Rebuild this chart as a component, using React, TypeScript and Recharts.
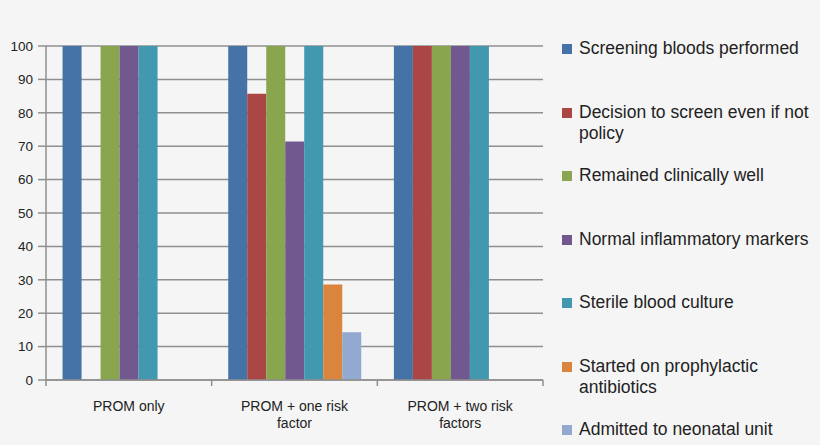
import React from 'react';
import { BarChart, Bar, XAxis, YAxis, CartesianGrid, Legend, Text } from 'recharts';

const categories = ['PROM only', 'PROM + one risk factor', 'PROM + two risk factors'];

const seriesNames = [
  'Screening bloods performed',
  'Decision to screen even if not policy',
  'Remained clinically well',
  'Normal inflammatory markers',
  'Sterile blood culture',
  'Started on prophylactic antibiotics',
  'Admitted to neonatal unit',
];

const screeningBloods = [100, 100, 100];
const decisionToScreen = [0, 85.7, 100];
const clinicallyWell = [100, 100, 100];
const normalMarkers = [100, 71.4, 100];
const sterileCulture = [100, 100, 100];
const prophylacticAbx = [0, 28.6, 0];
const admittedNnu = [0, 14.3, 0];

const yTicks = [0, 10, 20, 30, 40, 50, 60, 70, 80, 90, 100];

const seriesValues = [
  screeningBloods,
  decisionToScreen,
  clinicallyWell,
  normalMarkers,
  sterileCulture,
  prophylacticAbx,
  admittedNnu,
];

const colors = ['#4572a7', '#aa4643', '#89a54e', '#71588f', '#4198af', '#db843d', '#93a9cf'];

const data = categories.map((name, i) => {
  const row: Record<string, string | number> = { name };
  seriesNames.forEach((s, k) => {
    row[s] = seriesValues[k][i];
  });
  return row;
});

const FONT = '"Liberation Sans", Arial, sans-serif';
const GRID = '#8f8f8f';

// category label plus the tick marks at the band edges (Excel style)
function CategoryTick(props: any) {
  const { x, y, payload, index } = props;
  const half = payload.offset || 0;
  const axisY = y - 21;
  return (
    <g>
      <line x1={x - half} x2={x - half} y1={axisY} y2={axisY + 6} stroke={GRID} strokeWidth={1.5} />
      {index === categories.length - 1 && (
        <line x1={x + half} x2={x + half} y1={axisY} y2={axisY + 6} stroke={GRID} strokeWidth={1.5} />
      )}
      <Text
        x={x}
        y={y}
        width={120}
        textAnchor="middle"
        verticalAnchor="start"
        lineHeight={17}
        fontSize={14}
        fontFamily={FONT}
        fill="#222"
      >
        {payload.value}
      </Text>
    </g>
  );
}

function LegendList(props: any) {
  const payload = [...(props.payload || [])].sort(
    (a: any, b: any) => seriesNames.indexOf(a.value) - seriesNames.indexOf(b.value)
  );
  return (
    <div style={{ paddingLeft: 19, fontFamily: FONT, fontSize: 17.5, color: '#222' }}>
      {payload.map((entry: any) => (
        <div key={entry.value} style={{ height: 63.5, display: 'flex', alignItems: 'flex-start' }}>
          <span
            style={{
              width: 10,
              height: 10,
              marginTop: 6,
              marginRight: 7,
              flex: '0 0 10px',
              background: entry.color,
            }}
          />
          <span style={{ lineHeight: '21px', flex: '0 0 238px' }}>{entry.value}</span>
        </div>
      ))}
    </div>
  );
}

export default function App() {
  return (
    <div style={{ position: 'absolute', left: 0, top: 0, width: 820, height: 445, background: '#f5f5f5', overflow: 'hidden' }}>
      <BarChart
        width={820}
        height={445}
        data={data}
        margin={{ top: 46, right: 19, bottom: 0, left: 0 }}
        barCategoryGap="10%"
        barGap={0}
      >
        <CartesianGrid vertical={false} stroke={GRID} strokeWidth={1.5} />
        <XAxis
          dataKey="name"
          height={65}
          axisLine={{ stroke: GRID, strokeWidth: 1.5 }}
          tickLine={false}
          tickSize={0}
          tickMargin={21}
          interval={0}
          tick={<CategoryTick />}
        />
        <YAxis
          width={46}
          domain={[0, 100]}
          ticks={yTicks}
          interval={0}
          tickSize={8}
          tickMargin={5}
          axisLine={{ stroke: GRID, strokeWidth: 1.5 }}
          tickLine={{ stroke: GRID, strokeWidth: 1.5 }}
          tick={{ fontSize: 13.5, fontFamily: FONT, fill: '#222' }}
        />
        <Legend
          layout="vertical"
          align="right"
          verticalAlign="top"
          wrapperStyle={{ width: 258, top: 38 }}
          content={<LegendList />}
        />
        {seriesNames.map((s, k) => (
          <Bar key={s} dataKey={s} fill={colors[k]} isAnimationActive={false} />
        ))}
      </BarChart>
    </div>
  );
}
